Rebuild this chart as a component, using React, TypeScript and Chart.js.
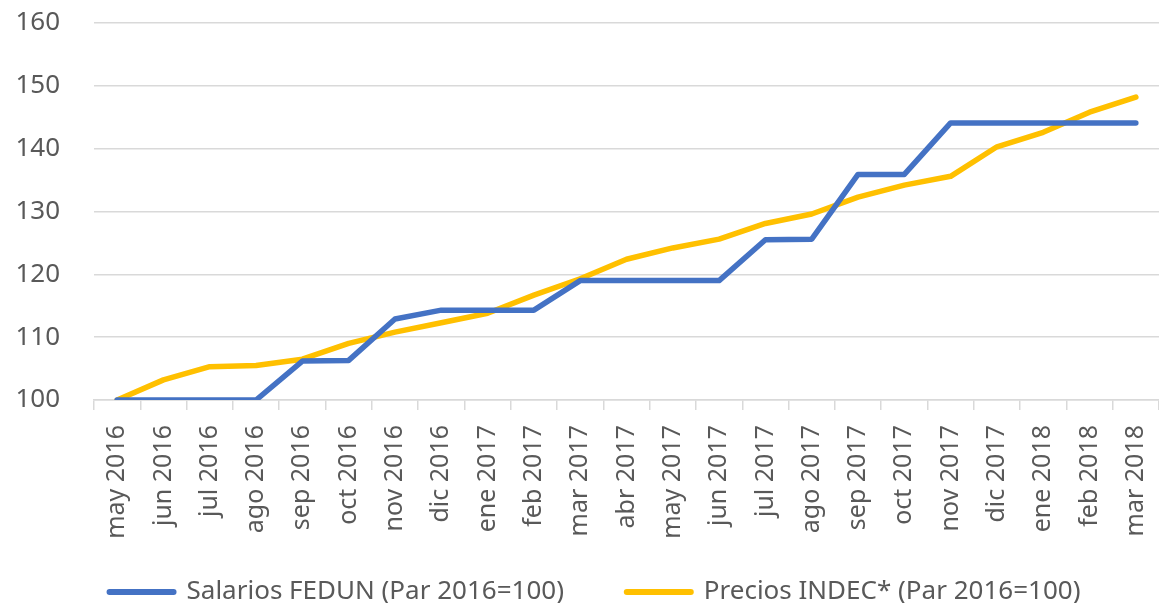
import React, { useEffect, useRef } from "react";
import { Chart, registerables } from "chart.js";

Chart.register(...registerables);

const categories = [
  "may 2016", "jun 2016", "jul 2016", "ago 2016", "sep 2016", "oct 2016",
  "nov 2016", "dic 2016", "ene 2017", "feb 2017", "mar 2017", "abr 2017",
  "may 2017", "jun 2017", "jul 2017", "ago 2017", "sep 2017", "oct 2017",
  "nov 2017", "dic 2017", "ene 2018", "feb 2018", "mar 2018",
];

const salariosFedun = [
  100, 100, 100, 100, 106.2, 106.3, 112.9, 114.3, 114.3, 114.3, 119.0, 119.0,
  119.0, 119.0, 125.5, 125.6, 135.9, 135.9, 144.1, 144.1, 144.1, 144.1, 144.1,
];

const preciosIndec = [
  100, 103.2, 105.3, 105.5, 106.5, 109.0, 110.8, 112.3, 113.8, 116.7, 119.3, 122.4,
  124.2, 125.6, 128.1, 129.6, 132.3, 134.2, 135.6, 140.3, 142.6, 145.8, 148.2,
];

const yTicks = [100, 110, 120, 130, 140, 150, 160];

const seriesLabels = ["Salarios FEDUN (Par 2016=100)", "Precios INDEC* (Par 2016=100)"];

const FONT = "'Noto Sans', 'Open Sans', sans-serif";
const TEXT = "#595959";
const GRID = "#d9d9d9";

export default function App() {
  const ref = useRef<HTMLCanvasElement | null>(null);

  useEffect(() => {
    document.body.style.margin = "0";
    const canvas = ref.current;
    if (!canvas) return;
    const chart = new Chart(canvas, {
      type: "line",
      data: {
        labels: categories,
        datasets: [
          {
            label: seriesLabels[0],
            data: salariosFedun,
            borderColor: "#4472C4",
            backgroundColor: "#4472C4",
            borderWidth: 5.5,
            pointRadius: 0,
            borderCapStyle: "round",
            borderJoinStyle: "round",
            tension: 0,
          },
          {
            label: seriesLabels[1],
            data: preciosIndec,
            borderColor: "#FFC000",
            backgroundColor: "#FFC000",
            borderWidth: 5.5,
            pointRadius: 0,
            borderCapStyle: "round",
            borderJoinStyle: "round",
            tension: 0,
          },
        ],
      },
      options: {
        animation: false,
        responsive: true,
        maintainAspectRatio: false,
        layout: { padding: { top: 23, left: 31, right: 0, bottom: -12 } },
        plugins: {
          tooltip: { enabled: false },
          legend: {
            position: "bottom",
            labels: {
              usePointStyle: true,
              pointStyle: "line",
              pointStyleWidth: 64,
              boxWidth: 64,
              padding: 2,
              color: TEXT,
              font: { family: FONT, size: 26 },
              generateLabels: (ch: any) => {
                const items = Chart.defaults.plugins.legend.labels.generateLabels(ch);
                items.forEach((it: any, i: number) => {
                  it.pointStyle = "line";
                  it.lineWidth = 6;
                  it.lineCap = "round";
                  if (i === 0) it.text = it.text + "         ";
                });
                return items;
              },
            },
          },
        },
        scales: {
          x: {
            offset: true,
            grid: {
              display: true,
              drawOnChartArea: false,
              drawTicks: true,
              tickLength: 10,
              color: GRID,
              lineWidth: 1.5,
              offset: true,
            },
            border: { display: true, color: GRID, width: 1.5 },
            ticks: {
              color: TEXT,
              font: { family: FONT, size: 25 },
              minRotation: 90,
              maxRotation: 90,
              padding: 15,
              autoSkip: false,
            },
            afterFit: (s: any) => {
              s.height = 177;
              s.paddingLeft = 0;
              s.paddingRight = 0;
            },
          },
          y: {
            min: 100,
            max: 160,
            afterBuildTicks: (s: any) => {
              s.ticks = yTicks.map((v) => ({ value: v }));
            },
            grid: {
              color: GRID,
              lineWidth: 1.5,
              drawTicks: true,
              tickLength: 34,
              tickColor: "rgba(0,0,0,0)",
            },
            border: { display: false },
            ticks: {
              color: TEXT,
              font: { family: FONT, size: 26 },
              padding: 0,
            },
            afterFit: (s: any) => {
              s.width = 63;
              s.paddingTop = 0;
              s.paddingBottom = 0;
              s._computeLabelArea = () => undefined;
            },
          },
        },
      },
    });
    return () => chart.destroy();
  }, []);

  return (
    <div style={{ width: 1159, height: 603, position: "relative" }}>
      <canvas ref={ref} />
    </div>
  );
}
